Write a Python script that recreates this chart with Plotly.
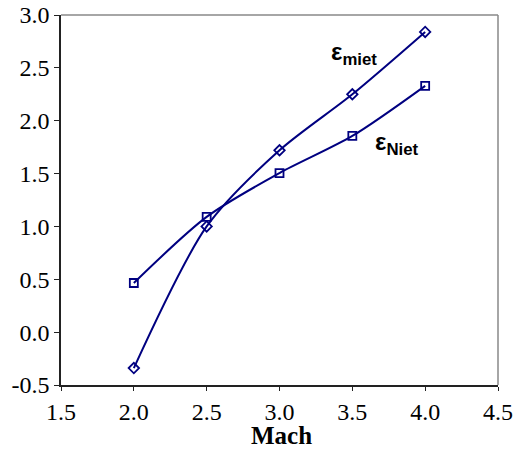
import plotly.graph_objects as go

mach = [2.0, 2.5, 3.0, 3.5, 4.0]
eps_miet = [-0.34, 1.00, 1.72, 2.25, 2.84]
eps_niet = [0.465, 1.09, 1.505, 1.856, 2.33]

x_ticks = [1.5, 2.0, 2.5, 3.0, 3.5, 4.0, 4.5]
y_ticks = [-0.5, 0.0, 0.5, 1.0, 1.5, 2.0, 2.5, 3.0]

navy = "#000080"
fig = go.Figure()
fig.add_trace(go.Scatter(x=mach, y=eps_miet, mode="lines+markers",
                         line=dict(color=navy, width=2, shape="spline", smoothing=0.8),
                         marker=dict(symbol="diamond-open", size=8, color=navy, line=dict(width=1.8))))
fig.add_trace(go.Scatter(x=mach, y=eps_niet, mode="lines+markers",
                         line=dict(color=navy, width=2, shape="spline", smoothing=0.8),
                         marker=dict(symbol="square-open", size=8, color=navy, line=dict(width=1.8))))

serif = "Liberation Serif, Times New Roman, serif"
font_axis = dict(family=serif, size=24, color="black")
fig.update_layout(
    width=514, height=450,
    margin=dict(l=61, r=16, t=15, b=65, autoexpand=False),
    paper_bgcolor="white", plot_bgcolor="white",
    showlegend=False,
    xaxis=dict(range=[1.5, 4.5], tickvals=x_ticks, ticktext=[f"{v:.1f}" for v in x_ticks],
               showgrid=False, zeroline=False, showline=True, linecolor="#222", linewidth=1.5,
               ticks="outside", ticklen=4, tickcolor="#222", tickfont=font_axis, automargin=False),
    yaxis=dict(range=[-0.5, 3.0], tickvals=y_ticks, ticktext=[f"{v:.1f}" for v in y_ticks],
               showgrid=False, zeroline=False, showline=True, linecolor="#222", linewidth=1.5,
               ticks="outside", ticklen=5, tickcolor="#222", tickfont=font_axis, automargin=False),
    shapes=[
        dict(type="line", xref="paper", yref="paper", x0=0, x1=1, y0=1, y1=1, line=dict(color="#888", width=1.5)),
        dict(type="line", xref="paper", yref="paper", x0=1, x1=1, y0=0, y1=1, line=dict(color="#888", width=1.5)),
    ],
    annotations=[
        dict(x=0.505, y=-0.176, xref="paper", yref="paper", showarrow=False,
             xanchor="center", yanchor="bottom", text="<b>Mach</b>", borderpad=0,
             font=dict(family=serif, size=25, color="black")),
        dict(x=3.34, y=2.64, xref="x", yref="y", showarrow=False, xanchor="left",
             text="<b>ε<sub>miet</sub></b>",
             font=dict(family="Liberation Sans, Arial, sans-serif", size=24, color="black")),
        dict(x=3.64, y=1.78, xref="x", yref="y", showarrow=False, xanchor="left",
             text="<b>ε<sub>Niet</sub></b>",
             font=dict(family="Liberation Sans, Arial, sans-serif", size=24, color="black")),
    ],
)

fig.write_html("out.html")
